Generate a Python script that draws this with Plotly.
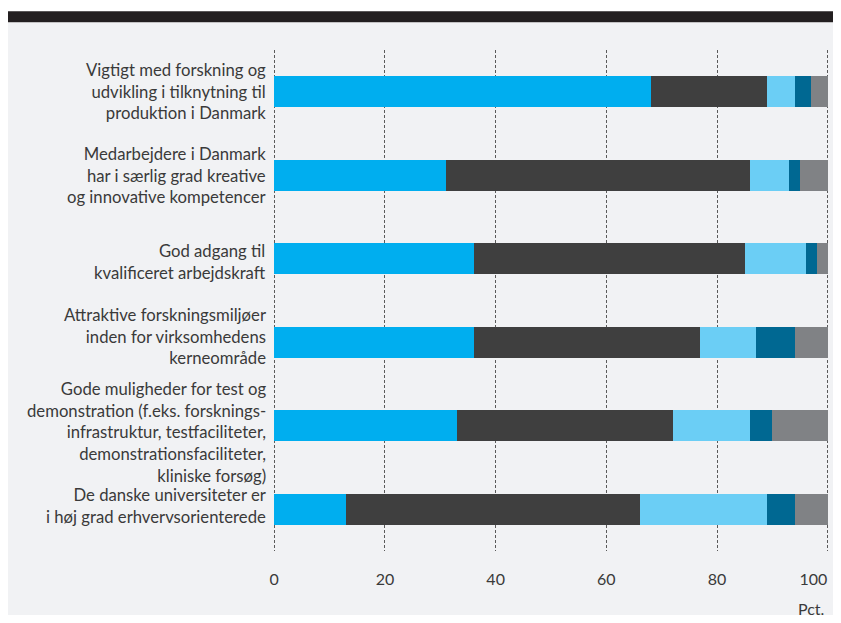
import plotly.graph_objects as go

categories = [
    "Vigtigt med forskning og<br>udvikling i tilknytning til<br>produktion i Danmark",
    "Medarbejdere i Danmark<br>har i særlig grad kreative<br>og innovative kompetencer",
    "God adgang til<br>kvalificeret arbejdskraft",
    "Attraktive forskningsmiljøer<br>inden for virksomhedens<br>kerneområde",
    "Gode muligheder for test og<br>demonstration (f.eks. forsknings-<br>infrastruktur, testfaciliteter,<br>demonstrationsfaciliteter,<br>kliniske forsøg)",
    "De danske universiteter er<br>i høj grad erhvervsorienterede",
]

series_1 = [68, 31, 36, 36, 33, 13]
series_2 = [21, 55, 49, 41, 39, 53]
series_3 = [5, 7, 11, 10, 14, 23]
series_4 = [3, 2, 2, 7, 4, 5]
series_5 = [3, 5, 2, 6, 10, 6]

x_ticks = [0, 20, 40, 60, 80, 100]
x_tick_labels = ["0", "20", "40", "60", "80", "100"]

series = [series_1, series_2, series_3, series_4, series_5]
colors = ["#00aeef", "#3f3f3f", "#6bcef5", "#006892", "#808285"]

FONT = "Lato"
TEXT = "#3a3a3a"
# vertical nudges (px) of the category labels, as in the reference layout
label_shift = [0, 0, -3, 6, -7, 3]

# keep the last tick label inside the visible page edge (pad with trailing spaces)
tick_text = x_tick_labels[:-1] + [x_tick_labels[-1] + "&nbsp;" * 7]

fig = go.Figure()
for vals, col in zip(series, colors):
    fig.add_trace(go.Bar(
        y=categories, x=vals, orientation="h",
        marker=dict(color=col, line=dict(width=0)),
        width=0.37, showlegend=False, hoverinfo="skip",
    ))

annotations = [
    dict(text=cat, xref="x", x=0, yref="y", y=cat, xanchor="right", yanchor="middle",
         align="right", xshift=-6, yshift=sh, showarrow=False,
         font=dict(family=FONT, size=16.7, color=TEXT))
    for cat, sh in zip(categories, label_shift)
]
annotations.append(
    dict(text="Pct.", xref="x", x=100, yref="paper", y=-0.1145,
         xanchor="right", yanchor="middle", xshift=-2, showarrow=False,
         font=dict(family=FONT, size=16, color=TEXT))
)

fig.update_layout(
    barmode="stack",
    width=833, height=607,
    margin=dict(l=263.78, r=10.8, t=41.5, b=63.5),
    paper_bgcolor="white",
    plot_bgcolor="rgba(0,0,0,0)",
    font=dict(family=FONT, size=17, color=TEXT),
    xaxis=dict(
        range=[-0.4, 100.4], tickvals=x_ticks, ticktext=tick_text,
        showgrid=True, gridcolor="#5a5a5a", griddash="3px,2px", gridwidth=1,
        zeroline=False, showline=False, ticks="", ticklabelstandoff=17,
        ticklabeloverflow="allow", automargin=False,
        tickfont=dict(family=FONT, size=16, color=TEXT),
    ),
    yaxis=dict(
        autorange="reversed", showgrid=False, zeroline=False, showline=False,
        ticks="", showticklabels=False, automargin=False,
    ),
    shapes=[
        dict(type="rect", xref="paper", yref="paper", x0=-0.4801, x1=1.0235,
             y0=-0.1365, y1=1.0548, fillcolor="#f1f2f4", line=dict(width=0), layer="below"),
        dict(type="rect", xref="paper", yref="paper", x0=-0.4801, x1=1.0235,
             y0=1.0554, y1=1.0773, fillcolor="#231f20", line=dict(width=0), layer="below"),
    ],
    annotations=annotations,
)

fig.write_html("out.html")
